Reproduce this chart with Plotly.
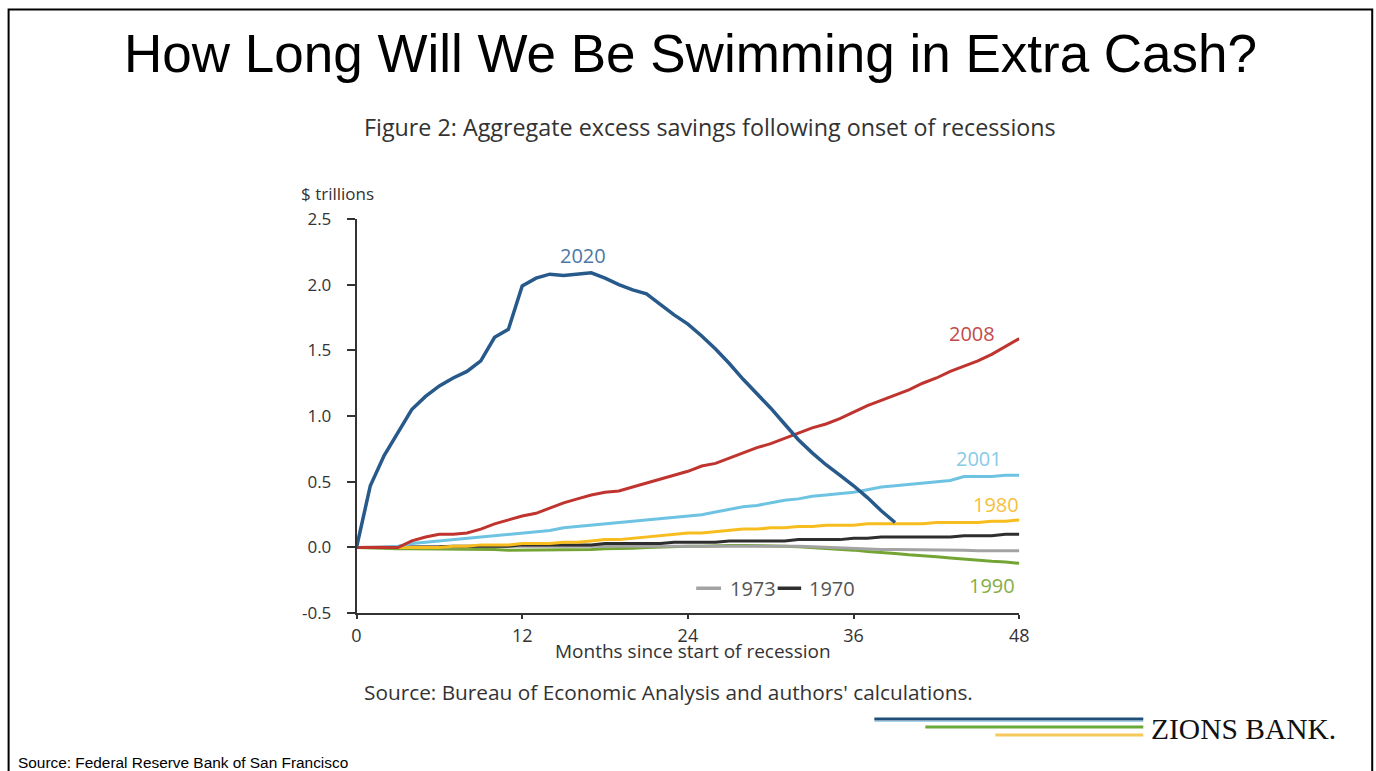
import plotly.graph_objects as go

# Months since start of recession
months = list(range(0, 49))

# Aggregate excess savings, $ trillions
s2020 = [0.0, 0.47, 0.70, 0.88, 1.05, 1.15, 1.23, 1.29, 1.34, 1.42,
         1.60, 1.66, 1.99, 2.05, 2.08, 2.07, 2.08, 2.09, 2.05, 2.00,
         1.96, 1.93, 1.85, 1.77, 1.70, 1.61, 1.51, 1.40, 1.28, 1.17,
         1.06, 0.94, 0.82, 0.72, 0.63, 0.55, 0.47, 0.38, 0.28, 0.19]

s2008 = [0.0, 0.0, 0.0, 0.0, 0.05, 0.08, 0.10, 0.10, 0.11, 0.14,
         0.18, 0.21, 0.24, 0.26, 0.30, 0.34, 0.37, 0.40, 0.42, 0.43,
         0.46, 0.49, 0.52, 0.55, 0.58, 0.62, 0.64, 0.68, 0.72, 0.76,
         0.79, 0.83, 0.87, 0.91, 0.94, 0.98, 1.03, 1.08, 1.12, 1.16,
         1.20, 1.25, 1.29, 1.34, 1.38, 1.42, 1.47, 1.53, 1.59]

s2001 = [0.0, 0.0, 0.0, 0.01, 0.03, 0.04, 0.05, 0.06, 0.07, 0.08,
         0.09, 0.10, 0.11, 0.12, 0.13, 0.15, 0.16, 0.17, 0.18, 0.19,
         0.20, 0.21, 0.22, 0.23, 0.24, 0.25, 0.27, 0.29, 0.31, 0.32,
         0.34, 0.36, 0.37, 0.39, 0.40, 0.41, 0.42, 0.44, 0.46, 0.47,
         0.48, 0.49, 0.50, 0.51, 0.54, 0.54, 0.54, 0.55, 0.55]

s1980 = [0.0, 0.0, 0.0, 0.0, 0.0, 0.0, 0.0, 0.01, 0.01, 0.02,
         0.02, 0.02, 0.03, 0.03, 0.03, 0.04, 0.04, 0.05, 0.06, 0.06,
         0.07, 0.08, 0.09, 0.10, 0.11, 0.11, 0.12, 0.13, 0.14, 0.14,
         0.15, 0.15, 0.16, 0.16, 0.17, 0.17, 0.17, 0.18, 0.18, 0.18,
         0.18, 0.18, 0.19, 0.19, 0.19, 0.19, 0.20, 0.20, 0.21]

s1990 = [0.0, -0.005, -0.005, -0.01, -0.01, -0.01, -0.01, -0.01, -0.01, -0.015,
         -0.015, -0.02, -0.02, -0.02, -0.02, -0.02, -0.02, -0.015, -0.01, -0.01,
         -0.005, 0.0, 0.005, 0.01, 0.01, 0.01, 0.015, 0.015, 0.015, 0.015,
         0.01, 0.01, 0.005, 0.0, -0.01, -0.015, -0.02, -0.03, -0.035, -0.045,
         -0.055, -0.06, -0.07, -0.08, -0.09, -0.10, -0.105, -0.11, -0.12]

s1973 = [0.0, 0.0, 0.0, 0.0, 0.0, 0.0, 0.0, 0.005, 0.005, 0.01,
         0.01, 0.01, 0.01, 0.01, 0.01, 0.015, 0.015, 0.015, 0.015, 0.015,
         0.015, 0.015, 0.015, 0.015, 0.015, 0.015, 0.015, 0.015, 0.015, 0.015,
         0.015, 0.015, 0.01, 0.005, 0.0, -0.005, -0.01, -0.01, -0.015, -0.015,
         -0.015, -0.015, -0.02, -0.02, -0.02, -0.025, -0.025, -0.025, -0.025]

s1970 = [0.0, 0.0, 0.0, 0.0, 0.0, 0.0, 0.005, 0.01, 0.01, 0.01,
         0.01, 0.01, 0.02, 0.02, 0.02, 0.02, 0.02, 0.02, 0.03, 0.03,
         0.03, 0.03, 0.03, 0.04, 0.04, 0.04, 0.04, 0.05, 0.05, 0.05,
         0.05, 0.05, 0.06, 0.06, 0.06, 0.06, 0.07, 0.07, 0.08, 0.08,
         0.08, 0.08, 0.08, 0.08, 0.09, 0.09, 0.09, 0.10, 0.10]

x_ticks = [0, 12, 24, 36, 48]
y_ticks = [-0.5, 0.0, 0.5, 1.0, 1.5, 2.0, 2.5]
y_tick_text = ["-0.5", "0.0", "0.5", "1.0", "1.5", "2.0", "2.5"]

C2020, C2008, C2001 = "#27598b", "#c0342f", "#6ec3e3"
C1980, C1990, C1973, C1970 = "#f7bd1f", "#74a534", "#a3a3a3", "#2e2e2e"

# Canvas and slide-pixel -> paper conversion
W, H = 1392, 795
OX, SX = 4.4, 0.9895
OY, SY = 10.6, 0.973
FONT = "'Open Sans', Lato, sans-serif"
SANS = "'Liberation Sans', Arial, sans-serif"


def fx(px):
    return ((px - OX) / SX) / W


def fy(py):
    return 1 - ((py - OY) / SY) / H


fig = go.Figure()

# Draw order: flat older series first, then the larger ones on top
series = [
    ("1990", s1990, C1990, 3),
    ("1973", s1973, C1973, 3),
    ("1970", s1970, C1970, 3),
    ("1980", s1980, C1980, 3),
    ("2001", s2001, C2001, 3),
    ("2008", s2008, C2008, 3),
    ("2020", s2020, C2020, 3.5),
]
for name, vals, col, w in series:
    fig.add_trace(go.Scatter(
        x=months[:len(vals)], y=vals, mode="lines", name=name,
        line=dict(color=col, width=w), showlegend=False, hoverinfo="skip"))

fig.update_layout(
    width=W, height=H,
    margin=dict(l=0, r=0, t=0, b=0),
    paper_bgcolor="white", plot_bgcolor="white",
    xaxis=dict(
        domain=[fx(356), fx(1019)], range=[0, 48],
        tickvals=x_ticks, ticktext=[str(v) for v in x_ticks],
        showgrid=False, zeroline=False,
        showline=True, linecolor="#333", linewidth=1.5,
        ticks="outside", ticklen=4, tickcolor="#333", tickwidth=1.5,
        ticklabelstandoff=1,
        tickfont=dict(family=FONT, size=18, color="#333"),
    ),
    yaxis=dict(
        domain=[fy(613), fy(218)], range=[-0.5, 2.5],
        tickvals=y_ticks, ticktext=y_tick_text,
        showgrid=False, zeroline=False,
        showline=True, linecolor="#333", linewidth=1.5,
        ticks="outside", ticklen=8, tickcolor="#333", tickwidth=1.5,
        ticklabelstandoff=12,
        tickfont=dict(family=FONT, size=17, color="#333"),
    ),
)


def page_text(text, px, py, size, family=FONT, color="#333", xanchor="center"):
    fig.add_annotation(text=text, x=fx(px), y=fy(py), xref="paper", yref="paper",
                       showarrow=False, xanchor=xanchor, yanchor="middle",
                       font=dict(family=family, size=size, color=color))


# Slide heading and figure captions
page_text("How Long Will We Be Swimming in Extra Cash?", 690, 52, 53, family=SANS, color="#000")
page_text("Figure 2: Aggregate excess savings following onset of recessions", 710, 126, 23.3)
page_text("$ trillions", 337, 192, 17)
page_text("Months since start of recession", 693, 651, 19)
page_text("Source: Bureau of Economic Analysis and authors' calculations.", 668, 692, 20.8)
page_text("Source: Federal Reserve Bank of San Francisco", 15, 763, 15.4,
          family=SANS, color="#000", xanchor="left")

# Series labels in data coordinates
labels = [
    ("2020", 16.4, 2.22, "#4c78a6"),
    ("2008", 44.6, 1.63, "#c24a48"),
    ("2001", 45.1, 0.68, "#86cbe6"),
    ("1980", 46.3, 0.33, "#f5c13a"),
    ("1990", 46.0, -0.29, "#86ad45"),
    ("1973", 28.7, -0.31, "#555555"),
    ("1970", 34.4, -0.31, "#555555"),
]
for txt, lx, ly, col in labels:
    fig.add_annotation(text=txt, x=lx, y=ly, xref="x", yref="y", showarrow=False,
                       font=dict(family=FONT, size=20, color=col))

# Legend swatches for 1973 / 1970
fig.add_shape(type="line", xref="x", yref="y", x0=24.6, x1=26.4, y0=-0.31, y1=-0.31,
              line=dict(color=C1973, width=3.5))
fig.add_shape(type="line", xref="x", yref="y", x0=30.5, x1=32.2, y0=-0.31, y1=-0.31,
              line=dict(color=C1970, width=3.5))

# Slide frame
fig.add_shape(type="rect", xref="paper", yref="paper",
              x0=fx(8), x1=fx(1372), y0=-0.05, y1=fy(8),
              line=dict(color="#000", width=2), fillcolor="rgba(0,0,0,0)")


# Bank logo: three coloured rules and the wordmark
def rule(x0, x1, y, color, width):
    fig.add_shape(type="line", xref="paper", yref="paper", x0=fx(x0), x1=fx(x1),
                  y0=fy(y), y1=fy(y), line=dict(color=color, width=width))


rule(874, 1143, 719, "#1f4e79", 3)
rule(874, 1143, 721.5, "#9fd3ee", 1)
rule(925, 1143, 727, "#6aaa3a", 3)
rule(995, 1143, 735, "#f5c95a", 3)
page_text("ZIONS BANK.", 1149, 729, 29.5,
          family="'Liberation Serif', 'Times New Roman', serif", color="#111", xanchor="left")

fig.write_html("out.html")
